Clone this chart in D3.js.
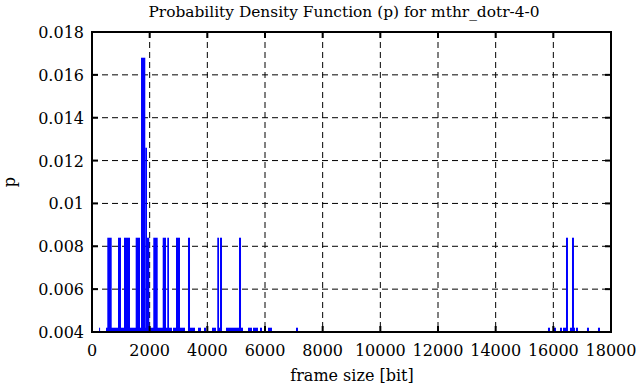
<!DOCTYPE html>
<html>
<head>
<meta charset="utf-8">
<script src="https://d3js.org/d3.v7.min.js"></script>
<style>
  html, body { margin: 0; padding: 0; background: #fff; }
  svg { display: block; }
</style>
</head>
<body>
<div id="chart"></div>
<script>
// chart texts
const title = "Probability Density Function (p) for mthr_dotr-4-0";
const xTitle = "frame size [bit]";
const yTitle = "p";

// tick values
const xTicks = [0, 2000, 4000, 6000, 8000, 10000, 12000, 14000, 16000, 18000];
const yTicks = [0.004, 0.006, 0.008, 0.01, 0.012, 0.014, 0.016, 0.018];

// histogram bins: [from bit, to bit]
const binFrom = [245, 486, 2809, 3329, 3676, 3884, 4162, 4370, 4647, 5410, 5584, 5826, 6104, 7075,
                 15814, 15988, 16231, 16335, 16577, 16785, 17167, 17548,
                 531, 902, 1110, 1515, 1700, 1848, 1907, 2126, 2452, 2611, 2913, 3329, 4345, 4439, 5098,
                 16439, 16647];
const binTo   = [280, 2774, 3225, 3572, 3780, 3954, 4300, 4509, 5237, 5549, 5757, 5896, 6242, 7144,
                 15884, 16092, 16300, 16474, 16751, 16855, 17236, 17618,
                 683, 1006, 1318, 1665, 1848, 1907, 1987, 2278, 2566, 2670, 3052, 3399, 4405, 4509, 5168,
                 16508, 16716];
// probability of each bin
const binP    = [0.0042, 0.0042, 0.0042, 0.0042, 0.0042, 0.0042, 0.0042, 0.0042, 0.0042, 0.0042, 0.0042, 0.0042, 0.0042, 0.0042,
                 0.0042, 0.0042, 0.0042, 0.0042, 0.0042, 0.0042, 0.0042, 0.0042,
                 0.0084, 0.0084, 0.0084, 0.0084, 0.0168, 0.0126, 0.0084, 0.0084, 0.0084, 0.0084, 0.0084, 0.0084, 0.0084, 0.0084, 0.0084,
                 0.0084, 0.0084];

const width = 636, height = 387;
const margin = {top: 32, right: 25, bottom: 55, left: 92};
const innerW = width - margin.left - margin.right;
const innerH = height - margin.top - margin.bottom;
const font = '"DejaVu Serif", serif';

const svg = d3.select('#chart').append('svg')
    .attr('width', width)
    .attr('height', height)
    .attr('font-family', font)
    .attr('font-size', 16);

const x = d3.scaleLinear().domain([0, 18000]).range([margin.left, margin.left + innerW]);
const y = d3.scaleLinear().domain([0.004, 0.018]).range([margin.top + innerH, margin.top]);

// dashed grid
svg.append('g').selectAll('line')
    .data(xTicks.slice(1, -1))
    .join('line')
    .attr('x1', d => x(d)).attr('x2', d => x(d))
    .attr('y1', y(0.018)).attr('y2', y(0.004))
    .attr('stroke', '#000').attr('stroke-width', 1)
    .attr('stroke-dasharray', '6,4');

svg.append('g').selectAll('line')
    .data(yTicks.slice(1, -1))
    .join('line')
    .attr('x1', x(0)).attr('x2', x(18000))
    .attr('y1', d => y(d)).attr('y2', d => y(d))
    .attr('stroke', '#000').attr('stroke-width', 1)
    .attr('stroke-dasharray', '6,4');

// bars
const bins = binFrom.map((f, i) => ({from: f, to: binTo[i], p: binP[i]}));
svg.append('g').selectAll('rect')
    .data(bins)
    .join('rect')
    .attr('x', d => x(d.from))
    .attr('width', d => Math.max(1, x(d.to) - x(d.from)))
    .attr('y', d => y(d.p))
    .attr('height', d => y(0.004) - y(d.p))
    .attr('fill', '#0000ff');

// ticks (inward, on all four sides)
const tickLen = 6;
const ticks = svg.append('g').attr('stroke', '#000').attr('stroke-width', 2);
xTicks.forEach(t => {
    ticks.append('line').attr('x1', x(t)).attr('x2', x(t)).attr('y1', y(0.004)).attr('y2', y(0.004) - tickLen);
    ticks.append('line').attr('x1', x(t)).attr('x2', x(t)).attr('y1', y(0.018)).attr('y2', y(0.018) + tickLen);
});
yTicks.forEach(t => {
    ticks.append('line').attr('x1', x(0)).attr('x2', x(0) + tickLen).attr('y1', y(t)).attr('y2', y(t));
    ticks.append('line').attr('x1', x(18000)).attr('x2', x(18000) - tickLen).attr('y1', y(t)).attr('y2', y(t));
});

// frame
svg.append('rect')
    .attr('x', x(0)).attr('y', y(0.018))
    .attr('width', x(18000) - x(0)).attr('height', y(0.004) - y(0.018))
    .attr('fill', 'none').attr('stroke', '#000').attr('stroke-width', 2);

// tick labels
svg.append('g').selectAll('text')
    .data(xTicks)
    .join('text')
    .attr('x', d => x(d))
    .attr('y', y(0.004) + 24)
    .attr('text-anchor', 'middle')
    .text(d => d);

svg.append('g').selectAll('text')
    .data(yTicks)
    .join('text')
    .attr('x', x(0) - 8)
    .attr('y', d => y(d) + 6)
    .attr('text-anchor', 'end')
    .text(d => String(+d.toFixed(3)));

// titles
svg.append('text')
    .attr('x', 344).attr('y', 17)
    .attr('text-anchor', 'middle')
    .attr('font-size', 15.4)
    .text(title);

svg.append('text')
    .attr('x', 352).attr('y', 381)
    .attr('text-anchor', 'middle')
    .text(xTitle);

svg.append('text')
    .attr('transform', 'translate(15,182) rotate(-90)')
    .attr('text-anchor', 'middle')
    .text(yTitle);
</script>
</body>
</html>
